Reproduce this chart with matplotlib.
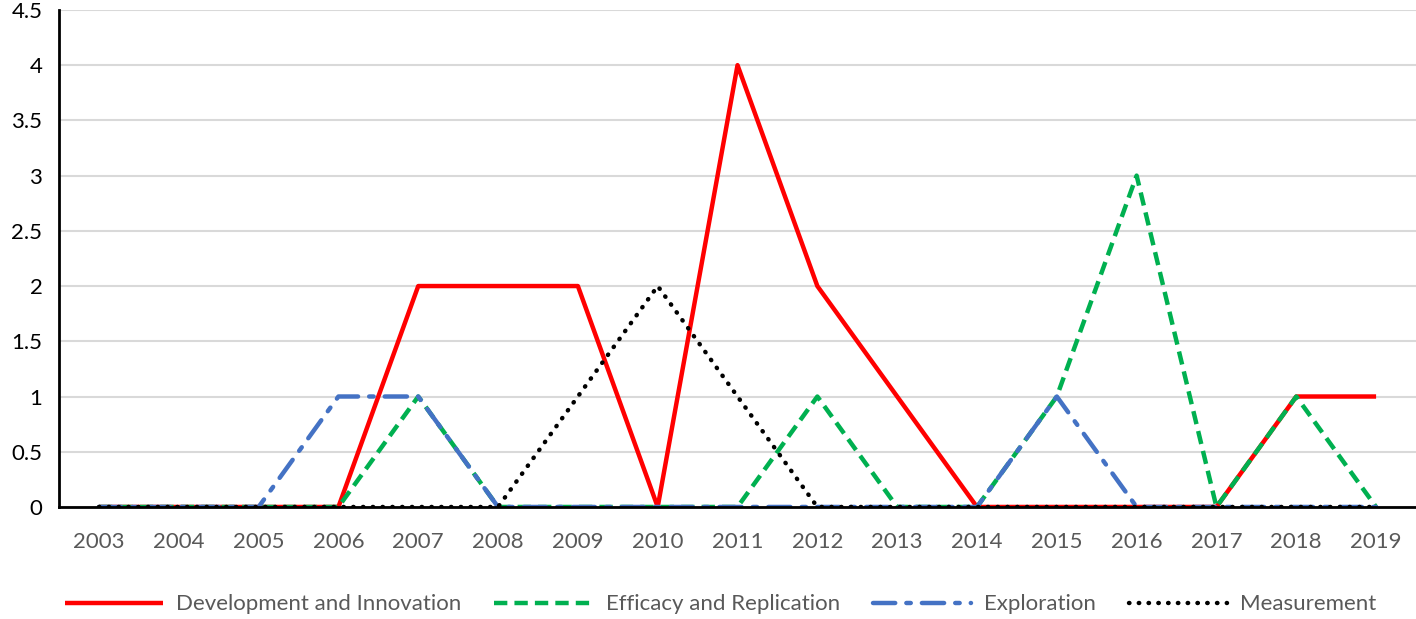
import numpy as np
import matplotlib.pyplot as plt

years = [str(y) for y in range(2003, 2020)]
dev_innov = [0, 0, 0, 0, 2, 2, 2, 0, 4, 2, 1, 0, 0, 0, 0, 1, 1]
efficacy = [0, 0, 0, 0, 1, 0, 0, 0, 0, 1, 0, 0, 1, 3, 0, 1, 0]
exploration = [0, 0, 0, 1, 1, 0, 0, 0, 0, 0, 0, 0, 1, 0, 0, 0, 0]
measurement = [0, 0, 0, 0, 0, 0, 1, 2, 1, 0, 0, 0, 0, 0, 0, 0, 0]

plt.rcParams['font.family'] = ['Lato', 'DejaVu Sans']

fig = plt.figure(figsize=(14.16, 6.19), dpi=100)
ax = fig.add_axes([0.0417, 0.181, 0.9583, 0.803])
x = np.arange(len(years))

ax.plot(x, dev_innov, color='#ff0000', lw=3.2, solid_capstyle='butt', label='Development and Innovation')
ax.plot(x, efficacy, color='#00b050', lw=3.2, ls=(0, (3, 1.6)), label='Efficacy and Replication')
ax.plot(x, exploration, color='#4472c4', lw=3.2, ls=(0, (5, 2.5, 1, 2.5)), dash_capstyle='round', label='Exploration')
ax.plot(x, measurement, color='black', lw=3.2, ls=(0, (0.1, 2.1)), dash_capstyle='round', label='Measurement')

ax.set_xlim(-0.5, len(years) - 0.5)
ax.set_ylim(0, 4.5)
ax.set_yticks(np.arange(0, 4.51, 0.5))
ax.set_yticklabels(['0', '0.5', '1', '1.5', '2', '2.5', '3', '3.5', '4', '4.5'])
ax.set_xticks(x)
ax.set_xticklabels(years)
ax.grid(axis='y', color='#d9d9d9', lw=1.5)
ax.set_axisbelow(True)
for s in ['top', 'right']:
    ax.spines[s].set_visible(False)
for s in ['left', 'bottom']:
    ax.spines[s].set_linewidth(2)
    ax.spines[s].set_color('black')
ax.tick_params(axis='x', length=0, pad=18, labelsize=16, labelcolor='#595959')
ax.tick_params(axis='y', length=0, pad=12, labelsize=16, labelcolor='black')

fig.legend(loc='lower center', bbox_to_anchor=(0.509, -0.025), ncol=4, frameon=False,
           fontsize=16, labelcolor='#595959', handlelength=4.4, columnspacing=1.5, handletextpad=0.6)

fig.savefig('out.png', dpi=100)
